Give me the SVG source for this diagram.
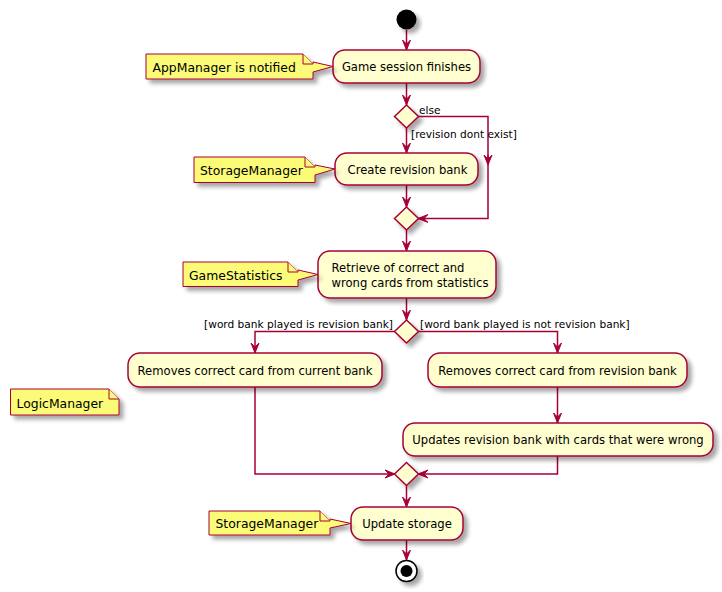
<svg xmlns="http://www.w3.org/2000/svg" width="722" height="592" viewBox="0 0 722 592">
<defs>
<filter id="sh" x="-20%" y="-20%" width="150%" height="160%">
<feGaussianBlur in="SourceAlpha" stdDeviation="2"/>
<feOffset dx="4" dy="4" result="b"/>
<feComponentTransfer><feFuncA type="linear" slope="0.35"/></feComponentTransfer>
<feMerge><feMergeNode/><feMergeNode in="SourceGraphic"/></feMerge>
</filter>
<marker id="ah" viewBox="0 0 10 10" refX="10" refY="5" markerWidth="10" markerHeight="10" markerUnits="userSpaceOnUse" orient="auto">
<path d="M0,1 L10,5 L0,9 L4,5 Z" fill="#A80036" stroke="#A80036" stroke-width="1"/>
</marker>
</defs>
<style>
.act{fill:#FEFECE;stroke:#A80036;stroke-width:1.5}
.dia{fill:#FEFECE;stroke:#A80036;stroke-width:1.5}
.note{fill:#FBFB77;stroke:#A80036;stroke-width:1}
.t{font-family:"DejaVu Sans","Liberation Sans",sans-serif;font-size:11.6px;fill:#000}
.nt{font-family:"DejaVu Sans","Liberation Sans",sans-serif;font-size:12.4px;fill:#000}
.lb{font-family:"DejaVu Sans","Liberation Sans",sans-serif;font-size:10.6px;fill:#000}
.c{fill:none;stroke:#A80036;stroke-width:1.5}
</style>
<g id="connectors">
<path class="c" d="M406.5,30 L406.5,50" marker-end="url(#ah)"/>
<path class="c" d="M406.5,83 L406.5,105" marker-end="url(#ah)"/>
<path class="c" d="M406.5,128 L406.5,153" marker-end="url(#ah)"/>
<path class="c" d="M418,116.5 L488,116.5 L488,165"/>
<path class="c" d="M488,155 L488,165" marker-end="url(#ah)"/>
<path class="c" d="M488,165 L488,218.5 L418,218.5" marker-end="url(#ah)"/>
<path class="c" d="M406.5,185 L406.5,207" marker-end="url(#ah)"/>
<path class="c" d="M406.5,230 L406.5,251" marker-end="url(#ah)"/>
<path class="c" d="M406.5,298 L406.5,320" marker-end="url(#ah)"/>
<path class="c" d="M394.5,331.5 L255,331.5 L255,353" marker-end="url(#ah)"/>
<path class="c" d="M418.5,331.5 L557.5,331.5 L557.5,353" marker-end="url(#ah)"/>
<path class="c" d="M557.5,387 L557.5,423" marker-end="url(#ah)"/>
<path class="c" d="M255,387 L255,474 L395,474" marker-end="url(#ah)"/>
<path class="c" d="M557.5,456 L557.5,474 L418,474" marker-end="url(#ah)"/>
<path class="c" d="M406.5,485.5 L406.5,507" marker-end="url(#ah)"/>
<path class="c" d="M406.5,540 L406.5,560" marker-end="url(#ah)"/>
<text class="lb" x="419" y="113.5">else</text>
<text class="lb" x="411" y="138">[revision dont exist]</text>
<text class="lb" x="393" y="328" text-anchor="end">[word bank played is revision bank]</text>
<text class="lb" x="420" y="328">[word bank played is not revision bank]</text>
</g>
<g id="start"><circle cx="406.5" cy="19.5" r="10" fill="#000" filter="url(#sh)"/></g>
<g id="n1"><rect class="act" x="333" y="50" width="147" height="33" rx="12" filter="url(#sh)"/><text class="t" x="406.5" y="71" text-anchor="middle">Game session finishes</text></g>
<g id="note1"><path class="note" d="M146,54 L303,54 L313,64 L313,62 L333,66.5 L313,72 L313,79 L146,79 Z" filter="url(#sh)"/><path class="note" d="M303,54 L303,64 L313,64"/><text class="nt" x="152.5" y="71.5">AppManager is notified</text></g>
<g id="d1"><polygon class="dia" points="406.5,105 418.5,116.5 406.5,128 394.5,116.5" filter="url(#sh)"/></g>
<g id="n2"><rect class="act" x="335" y="153" width="143" height="32" rx="12" filter="url(#sh)"/><text class="t" x="407.5" y="174" text-anchor="middle">Create revision bank</text></g>
<g id="note2"><path class="note" d="M194,157 L305,157 L315,167 L315,165 L335,169 L315,175 L315,182.5 L194,182.5 Z" filter="url(#sh)"/><path class="note" d="M305,157 L305,167 L315,167"/><text class="nt" x="200" y="174.5">StorageManager</text></g>
<g id="d2"><polygon class="dia" points="406.5,207 418.5,218.5 406.5,230 394.5,218.5" filter="url(#sh)"/></g>
<g id="n3"><rect class="act" x="318" y="251" width="178" height="47" rx="12" filter="url(#sh)"/><text class="t" x="331.5" y="271.5">Retrieve of correct and</text><text class="t" x="331.5" y="286.5">wrong cards from statistics</text></g>
<g id="note3"><path class="note" d="M183,262 L288,262 L298,272 L298,270 L318,274.5 L298,280 L298,286.5 L183,286.5 Z" filter="url(#sh)"/><path class="note" d="M288,262 L288,272 L298,272"/><text class="nt" x="189" y="279.5">GameStatistics</text></g>
<g id="d3"><polygon class="dia" points="406.5,320 418.5,331.5 406.5,343 394.5,331.5" filter="url(#sh)"/></g>
<g id="n4"><rect class="act" x="128" y="353" width="254" height="34" rx="12" filter="url(#sh)"/><text class="t" x="255" y="375" text-anchor="middle">Removes correct card from current bank</text></g>
<g id="note4"><path class="note" d="M10.5,389 L109,389 L119,399 L119,415 L10.5,415 Z" filter="url(#sh)"/><path class="note" d="M109,389 L109,399 L119,399"/><text class="nt" x="16.5" y="407.5">LogicManager</text></g>
<g id="n5"><rect class="act" x="428" y="353" width="259" height="34" rx="12" filter="url(#sh)"/><text class="t" x="557.5" y="375" text-anchor="middle">Removes correct card from revision bank</text></g>
<g id="n6"><rect class="act" x="403" y="423" width="310" height="33" rx="12" filter="url(#sh)"/><text class="t" x="558" y="444" text-anchor="middle">Updates revision bank with cards that were wrong</text></g>
<g id="d4"><polygon class="dia" points="406.5,462.5 418.5,474 406.5,485.5 394.5,474" filter="url(#sh)"/></g>
<g id="n7"><rect class="act" x="351" y="507" width="112" height="33" rx="12" filter="url(#sh)"/><text class="t" x="407" y="528" text-anchor="middle">Update storage</text></g>
<g id="note5"><path class="note" d="M209,511 L320,511 L330,521 L330,519 L351,523.5 L330,528 L330,535 L209,535 Z" filter="url(#sh)"/><path class="note" d="M320,511 L320,521 L330,521"/><text class="nt" x="215.5" y="527.5">StorageManager</text></g>
<g id="end"><circle cx="406.5" cy="571" r="10.5" fill="#fff" stroke="#000" stroke-width="1.5" filter="url(#sh)"/><circle cx="406.5" cy="571" r="6" fill="#000"/></g>
</svg>
